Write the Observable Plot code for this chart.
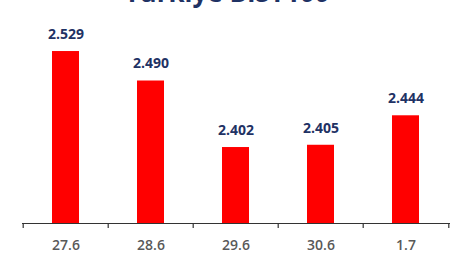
<!DOCTYPE html>
<html>
<head>
<meta charset="utf-8">
<script src="https://cdn.jsdelivr.net/npm/d3@7"></script>
<script src="https://cdn.jsdelivr.net/npm/@observablehq/plot@0.6"></script>
<style>
  html, body { margin: 0; padding: 0; background: #fff; overflow: hidden; }
  #wrap { position: relative; width: 454px; height: 260px; }
  #title { position: absolute; left: 0; width: 454px; top: -26px; text-align: center;
    font-family: "Open Sans", sans-serif; font-weight: 700; font-size: 26px; color: #1f3264; }
  #chart { position: absolute; left: 0; top: 0; }
</style>
</head>
<body>
<div id="wrap">
  <div id="title">Türkiye BIST100</div>
  <div id="chart"></div>
</div>
<script>
const categories = ["27.6", "28.6", "29.6", "30.6", "1.7"];
const values = [2.529, 2.490, 2.402, 2.405, 2.444];
const labels = ["2.529", "2.490", "2.402", "2.405", "2.444"];

const data = categories.map((c, i) => ({cat: c, value: values[i], label: labels[i]}));
const yMin = 2.3015, yMax = 2.5965;
const W = 454, H = 260, mL = 22, mR = 4;
const step = (W - mL - mR) / categories.length;

const chart = Plot.plot({
  width: W, height: H,
  marginLeft: mL, marginRight: mR, marginTop: 0, marginBottom: 37,
  style: {background: "transparent", fontFamily: "'Open Sans', sans-serif"},
  x: {domain: categories, paddingInner: 0.68, paddingOuter: 0.34, label: null},
  y: {domain: [yMin, yMax], axis: null},
  marks: [
    Plot.barY(data, {x: "cat", y1: yMin, y2: "value", fill: "#ff0000"}),
    Plot.text(data, {x: "cat", y: "value", text: "label", dy: -17, fill: "#1f3264",
      fontSize: 14, fontWeight: 700}),
    Plot.ruleY([yMin], {stroke: "#333", strokeWidth: 1.2}),
    Plot.ruleX(categories, {x: d => d, dx: -step / 2, insetTop: H - 37 - 5, dy: 5, stroke: "#333", strokeWidth: 1.2}),
    Plot.ruleX([categories[categories.length - 1]], {x: d => d, dx: step / 2, insetTop: H - 37 - 5, dy: 5, stroke: "#333", strokeWidth: 1.2}),
    Plot.axisX({tickSize: 0, tickPadding: 17, fontSize: 14, fill: "#595959", fontWeight: 600, label: null})
  ]
});
document.getElementById("chart").appendChild(chart);
</script>
</body>
</html>
